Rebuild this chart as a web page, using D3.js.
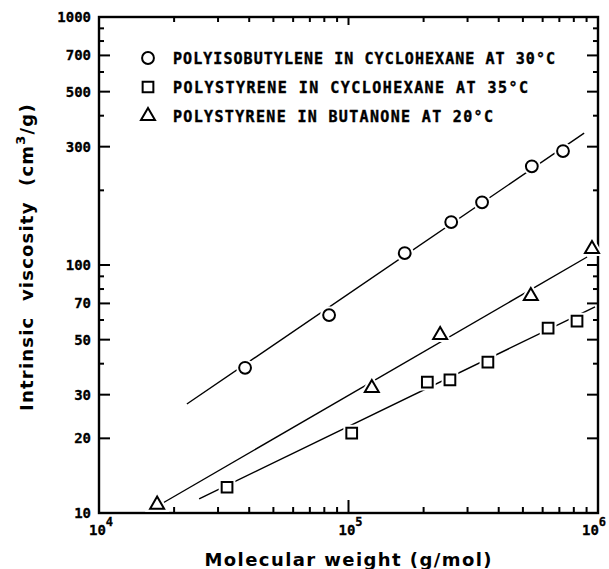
<!DOCTYPE html>
<html>
<head>
<meta charset="utf-8">
<script src="https://cdn.jsdelivr.net/npm/d3@7"></script>
<style>
  html, body { margin: 0; padding: 0; background: #fff; }
  svg { display: block; }
</style>
</head>
<body>
<svg id="chart" width="609" height="569"></svg>
<script>
// Molecular weight (g/mol) and intrinsic viscosity (cm3/g) for each series
const pibM   = [3.85e4, 8.36e4, 1.68e5, 2.58e5, 3.43e5, 5.43e5, 7.24e5];
const pibEta = [38.5, 62.8, 111.7, 149, 179, 250, 288];

const psChM   = [3.26e4, 1.03e5, 2.07e5, 2.55e5, 3.62e5, 6.31e5, 8.24e5];
const psChEta = [12.7, 21.0, 33.7, 34.4, 40.6, 55.7, 59.4];

const psBuM   = [1.71e4, 1.24e5, 2.33e5, 5.38e5, 9.46e5];
const psBuEta = [10.8, 31.9, 52.2, 75.0, 116];

// Straight-line fits (end points) on the log-log plot
const pibFitM   = [2.25e4, 8.8e5];
const pibFitEta = [27.5, 340];
const psChFitM   = [2.52e4, 9.73e5];
const psChFitEta = [11.4, 67.8];
const psBuFitM   = [1.81e4, 9.04e5];
const psBuFitEta = [11.0, 107.7];

const legendLabels = [
  "POLYISOBUTYLENE IN CYCLOHEXANE AT 30\u00B0C",
  "POLYSTYRENE IN CYCLOHEXANE AT 35\u00B0C",
  "POLYSTYRENE IN BUTANONE AT 20\u00B0C"
];
const legendSymbols = ["circle", "square", "triangle"];

const yMajorTicks = [10, 20, 30, 50, 70, 100, 300, 500, 700, 1000];
const yMinorTicks = [40, 60, 80, 90, 200, 400, 600, 800, 900];
const xDecades = [1e4, 1e5, 1e6];
const xDecadeExponents = ["4", "5", "6"];

const svg = d3.select("#chart");
const plotLeft = 99, plotRight = 598, plotTop = 17, plotBottom = 513;

const x = d3.scaleLog().domain([1e4, 1e6]).range([plotLeft, plotRight]);
const y = d3.scaleLog().domain([10, 1000]).range([plotBottom, plotTop]);

// minor x ticks: 2..9 within each decade
const xMinorTicks = x.ticks().filter(v => !xDecades.some(d => Math.abs(d - v) < 1));

// inward ticks on all four sides
const ticks = svg.append("g");
function yTicks(values, len) {
  ticks.append("g").selectAll("line").data(values).join("line")
    .attr("x1", plotLeft).attr("x2", plotLeft + len)
    .attr("y1", d => y(d)).attr("y2", d => y(d))
    .attr("stroke", "#000").attr("stroke-width", 2);
  ticks.append("g").selectAll("line").data(values).join("line")
    .attr("x1", plotRight).attr("x2", plotRight - len)
    .attr("y1", d => y(d)).attr("y2", d => y(d))
    .attr("stroke", "#000").attr("stroke-width", 2);
}
function xTicks(values, lenBottom, lenTop) {
  ticks.append("g").selectAll("line").data(values).join("line")
    .attr("x1", d => x(d)).attr("x2", d => x(d))
    .attr("y1", plotBottom).attr("y2", plotBottom - lenBottom)
    .attr("stroke", "#000").attr("stroke-width", 2);
  ticks.append("g").selectAll("line").data(values).join("line")
    .attr("x1", d => x(d)).attr("x2", d => x(d))
    .attr("y1", plotTop).attr("y2", plotTop + lenTop)
    .attr("stroke", "#000").attr("stroke-width", 2);
}
yTicks(yMajorTicks, 11);
yTicks(yMinorTicks, 5);
xTicks(xDecades, 13, 8);
xTicks(xMinorTicks, 6, 5);

// frame
svg.append("rect")
  .attr("x", plotLeft).attr("y", plotTop)
  .attr("width", plotRight - plotLeft).attr("height", plotBottom - plotTop)
  .attr("fill", "none").attr("stroke", "#000").attr("stroke-width", 2.4);

// y tick labels
svg.append("g").selectAll("text").data(yMajorTicks).join("text")
  .attr("x", plotLeft - 8).attr("y", d => y(d) + 5)
  .attr("text-anchor", "end")
  .attr("font-family", "DejaVu Sans Mono, monospace")
  .attr("font-weight", "bold").attr("font-size", 14)
  .attr("stroke", "#000").attr("stroke-width", 0.3)
  .text(d => d);

// x decade labels 10^n
xDecades.forEach((v, i) => {
  const t = svg.append("text")
    .attr("x", i === 2 ? x(v) - 4 : x(v) + 2).attr("y", 535)
    .attr("text-anchor", "middle")
    .attr("font-family", "DejaVu Sans Mono, monospace")
    .attr("font-weight", "bold")
    .attr("font-size", 14)
    .attr("stroke", "#000").attr("stroke-width", 0.3);
  t.append("tspan").text("10");
  t.append("tspan").attr("dy", -9).attr("font-size", 12).text(xDecadeExponents[i]);
});

// axis titles
svg.append("text")
  .attr("x", 348).attr("y", 566)
  .attr("text-anchor", "middle")
  .attr("font-family", "DejaVu Sans, sans-serif")
  .attr("font-weight", "bold").attr("font-size", 18)
  .attr("textLength", 287).attr("lengthAdjust", "spacing")
  .text("Molecular weight (g/mol)");

const yTitle = svg.append("text")
  .attr("transform", "translate(33,257) rotate(-90)")
  .attr("text-anchor", "middle")
  .attr("font-family", "DejaVu Sans, sans-serif")
  .attr("font-weight", "bold").attr("font-size", 18)
  .attr("word-spacing", 8).attr("letter-spacing", 1.2);
yTitle.append("tspan").text("Intrinsic viscosity (cm");
yTitle.append("tspan").attr("dy", -8).attr("font-size", 13).text("3");
yTitle.append("tspan").attr("dy", 8).text("/g)");

// ---- fit lines ----
const line = d3.line().x(d => x(d[0])).y(d => y(d[1]));
[[pibFitM, pibFitEta], [psChFitM, psChFitEta], [psBuFitM, psBuFitEta]].forEach(([ms, es]) => {
  svg.append("path")
    .datum(d3.zip(ms, es))
    .attr("d", line)
    .attr("fill", "none").attr("stroke", "#000").attr("stroke-width", 1.4);
});

// ---- markers ----
function symbolPath(kind) {
  if (kind === "circle") return d3.symbol(d3.symbolCircle, 110)();
  if (kind === "square") return d3.symbol(d3.symbolSquare, 115)();
  return d3.symbol(d3.symbolTriangle, 85)();
}
function drawMarkers(ms, es, kind) {
  const g = svg.append("g");
  const pts = d3.zip(ms, es);
  // white halo so the fit line breaks around each marker
  g.selectAll("path.halo").data(pts).join("path")
    .attr("class", "halo")
    .attr("transform", d => `translate(${x(d[0])},${y(d[1])})`)
    .attr("d", symbolPath(kind))
    .attr("fill", "#fff").attr("stroke", "#fff").attr("stroke-width", 6);
  g.selectAll("path.mark").data(pts).join("path")
    .attr("class", "mark")
    .attr("transform", d => `translate(${x(d[0])},${y(d[1])})`)
    .attr("d", symbolPath(kind))
    .attr("fill", "#fff").attr("stroke", "#000").attr("stroke-width", 2);
}
drawMarkers(pibM, pibEta, "circle");
drawMarkers(psChM, psChEta, "square");
drawMarkers(psBuM, psBuEta, "triangle");

// ---- legend ----
const legendWidths = [382, 355, 320];
legendLabels.forEach((label, i) => {
  const cy = 58 + i * 29;
  svg.append("path")
    .attr("transform", `translate(148,${cy})`)
    .attr("d", symbolPath(legendSymbols[i]))
    .attr("fill", "#fff").attr("stroke", "#000").attr("stroke-width", 2);
  svg.append("text")
    .attr("x", 173).attr("y", cy + 5.5)
    .attr("font-family", "DejaVu Sans Mono, monospace")
    .attr("font-weight", "bold").attr("font-size", 15)
    .attr("stroke", "#000").attr("stroke-width", 0.4)
    .attr("textLength", legendWidths[i]).attr("lengthAdjust", "spacing")
    .text(label);
});
</script>
</body>
</html>
